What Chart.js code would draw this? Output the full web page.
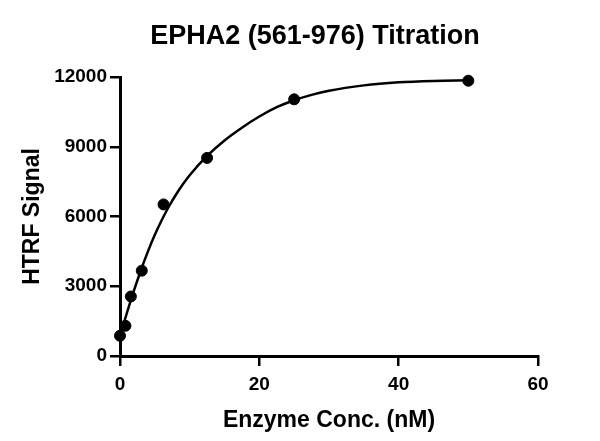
<!DOCTYPE html>
<html>
<head>
<meta charset="utf-8">
<script src="https://cdn.jsdelivr.net/npm/chart.js@4"></script>
<style>
  body { margin: 0; background: #fff; }
  #box { width: 600px; height: 441px; }
</style>
</head>
<body>
<div id="box"><canvas id="myChart" width="600" height="441"></canvas></div>
<script>
// measured points
const concs = [0, 0.78, 1.56, 3.125, 6.25, 12.5, 25, 50];
const signal = [870, 1300, 2560, 3670, 6520, 8520, 11040, 11840];

// fitted curve
const fitConc = [0, 1, 2, 3, 4, 5, 6, 7, 8, 9, 10, 12.5, 15, 17.5, 20, 22.5, 25, 27.5, 30, 35, 40, 45, 50];
const fitSignal = [860, 1860, 2810, 3690, 4490, 5210, 5850, 6420, 6925, 7375, 7775, 8605, 9270, 9820, 10300, 10700, 11000, 11230, 11410, 11640, 11770, 11830, 11855];

const xTicks = [0, 20, 40, 60];
const yTicks = [0, 3000, 6000, 9000, 12000];

Chart.defaults.font.family = "'Liberation Sans', Arial, sans-serif";
Chart.defaults.color = '#000';

const ctx = document.getElementById('myChart');

function createChart(){
	myChart = new Chart(ctx, {
		type: 'scatter',
		data: {
		  datasets: [{
		    label: 'fit',
		    data: fitConc.map((c, i) => ({x: c, y: fitSignal[i]})),
		    showLine: true,
		    borderColor: '#000',
		    borderWidth: 2.5,
		    pointRadius: 0,
		    cubicInterpolationMode: 'monotone',
		    clip: false
		  }, {
		    label: 'signal',
		    data: concs.map((c, i) => ({x: c, y: signal[i]})),
		    backgroundColor: '#000',
		    borderColor: '#000',
		    pointRadius: 5.5,
		    clip: false
		  }]
		},
		options: {
		  responsive: false,
		  animation: false,
		  layout: { padding: { left: 30, right: 0, top: 0, bottom: 0 } },
		  plugins: {
		    legend: { display: false },
		    tooltip: { enabled: false },
		    title: {
		      display: true,
		      text: 'EPHA2 (561-976) Titration',
		      color: '#000',
		      font: { size: 27, weight: 'bold' },
		      padding: { top: 20, bottom: 24.6 }
		    }
		  },
		  scales: {
		    x: {
		      type: 'linear',
		      min: 0,
		      max: 60,
		      afterBuildTicks: s => { s.ticks = xTicks.map(v => ({value: v})); },
		      afterFit: s => { s.height = 85; },
		      ticks: { font: { size: 19, weight: 'bold' }, color: '#000', padding: 7, maxRotation: 0, callback: v => String(v) },
		      grid: { drawOnChartArea: false, drawTicks: true, tickLength: 10, color: '#000', lineWidth: 2.5 },
		      border: { display: true, color: '#000', width: 3 },
		      title: {
		        display: true,
		        text: 'Enzyme Conc. (nM)',
		        color: '#000',
		        font: { size: 23, weight: 'bold' },
		        padding: { top: 0, bottom: 7 }
		      }
		    },
		    y: {
		      type: 'linear',
		      min: 0,
		      max: 12000,
		      afterBuildTicks: s => { s.ticks = yTicks.map(v => ({value: v})); },
		      afterFit: s => { s.width = 90; },
		      ticks: { font: { size: 19, weight: 'bold' }, color: '#000', padding: 3, callback: v => String(v) },
		      grid: { drawOnChartArea: false, drawTicks: true, tickLength: 10, color: '#000', lineWidth: 2.5 },
		      border: { display: true, color: '#000', width: 3 },
		      title: {
		        display: true,
		        text: 'HTRF Signal',
		        color: '#000',
		        font: { size: 23, weight: 'bold' },
		        padding: { top: -11, bottom: 0 }
		      }
		    },
		    yRight: {
		      type: 'linear',
		      axis: 'y',
		      position: 'right',
		      afterFit: s => { s.width = 62; },
		      ticks: { display: false },
		      grid: { display: false },
		      border: { display: false }
		    }
		  }
		}
	});
}

createChart();
</script>
</body>
</html>
